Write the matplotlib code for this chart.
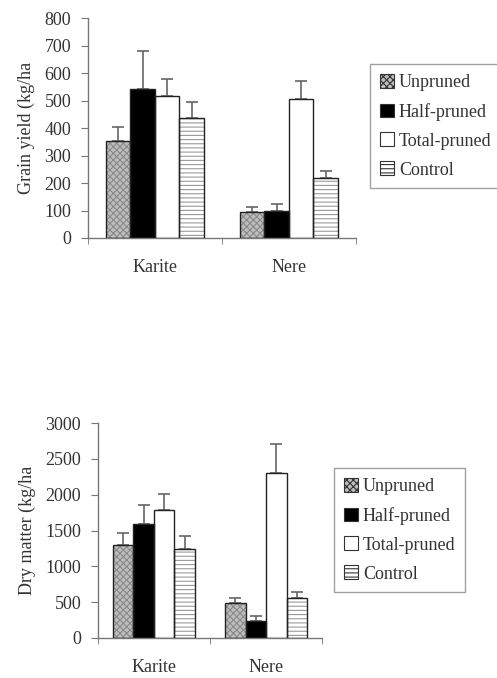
import numpy as np
import matplotlib
matplotlib.use("Agg")
import matplotlib.pyplot as plt
from matplotlib.patches import Patch

plt.rcParams['font.family'] = ['Liberation Serif', 'DejaVu Serif']
plt.rcParams['hatch.linewidth'] = 0.8
plt.rcParams['text.color'] = '#333333'
plt.rcParams['axes.labelcolor'] = '#333333'
plt.rcParams['xtick.labelcolor'] = '#333333'
plt.rcParams['ytick.labelcolor'] = '#333333'

sites = ['Karite', 'Nere']
treatments = ['Unpruned', 'Half-pruned', 'Total-pruned', 'Control']

# grain yield (kg/ha), mean and upper error
grain = [[353, 93], [542, 100], [516, 505], [436, 218]]
grain_err = [[50, 19], [138, 22], [62, 66], [58, 26]]

# dry matter (kg/ha)
dry = [[1300, 484], [1590, 242], [1784, 2302], [1243, 563]]
dry_err = [[172, 74], [272, 65], [221, 410], [187, 74]]

fills = ['#bdbdbd', 'black', 'white', 'white']
hatches = ['xxxxx', None, None, '----']
hatch_cols = ['#8a8a8a', 'black', 'white', '#9a9a9a']
axis_col = '#777777'
fs = 13


def draw_panel(ax, vals, errs, ymax, ystep, ylabel):
    w = 0.183
    centers = np.arange(len(sites)) + 0.5
    for i in range(len(treatments)):
        x = centers + (i - 1.5) * w
        ax.bar(x, vals[i], w, color=fills[i], hatch=hatches[i],
               edgecolor=hatch_cols[i], linewidth=0, zorder=2)
        ax.bar(x, vals[i], w, fill=False, edgecolor='#222222', linewidth=1.0, zorder=3)
        ax.errorbar(x, vals[i], yerr=[np.zeros(len(sites)), errs[i]], fmt='none',
                    ecolor='#666666', elinewidth=1.2, capsize=4, capthick=1.2, zorder=1)
    ax.set_xlim(0, 2)
    ax.set_ylim(0, ymax)
    ax.set_yticks(np.arange(0, ymax + 1, ystep))
    ax.set_xticks(centers)
    ax.set_xticklabels(sites)
    ax.set_xticks([0, 1, 2], minor=True)
    ax.tick_params(axis='x', which='major', length=0, pad=15, labelsize=fs)
    ax.tick_params(axis='x', which='minor', length=4, color=axis_col, direction='out')
    ax.tick_params(axis='y', length=5, color=axis_col, labelsize=fs, pad=7)
    ax.set_ylabel(ylabel, fontsize=fs, labelpad=7)
    for s in ['top', 'right']:
        ax.spines[s].set_visible(False)
    for s in ['left', 'bottom']:
        ax.spines[s].set_color(axis_col)
        ax.spines[s].set_linewidth(1.0)
    ax.spines['left'].set_bounds(0, ymax)


fig = plt.figure(figsize=(4.97, 6.78), dpi=100)

ax1 = fig.add_axes([0.177, 0.649, 0.539, 0.324])
draw_panel(ax1, grain, grain_err, 800, 100, 'Grain yield (kg/ha')

ax2 = fig.add_axes([0.197, 0.059, 0.451, 0.317])
draw_panel(ax2, dry, dry_err, 3000, 500, 'Dry matter (kg/ha')

handles = [Patch(facecolor=fills[i], hatch=hatches[i], edgecolor='#333333', linewidth=0.8)
           for i in range(len(treatments))]

for bbox in [(370 / 497, 1 - 64 / 678), (334 / 497, 1 - 468 / 678)]:
    leg = fig.legend(handles, treatments, loc='upper left', bbox_to_anchor=bbox,
                     fontsize=fs, frameon=True, fancybox=False, handlelength=0.8,
                     handleheight=0.8, handletextpad=0.25, labelspacing=0.65,
                     borderpad=0.55, borderaxespad=0)
    leg.get_frame().set_edgecolor('#888888')
    leg.get_frame().set_linewidth(1.0)

fig.savefig('out.png', dpi=100)
